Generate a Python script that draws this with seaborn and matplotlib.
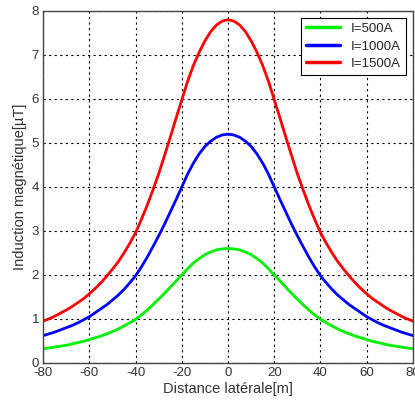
import numpy as np
import pandas as pd
import matplotlib
matplotlib.use("Agg")
import matplotlib.pyplot as plt
import seaborn as sns

# lateral distance [m], 2.5 m steps
distance = list(np.arange(-80, 80.1, 2.5))

# values [uT]
b_500 = [0.32, 0.34, 0.36, 0.38, 0.40, 0.43, 0.46, 0.49, 0.53, 0.57, 0.61, 0.66, 0.71,
         0.77, 0.84, 0.91, 0.99, 1.09, 1.20, 1.32, 1.45, 1.58, 1.72, 1.86, 2.00,
         2.14, 2.27, 2.37, 2.46, 2.52, 2.57, 2.59, 2.60,
         2.59, 2.57, 2.52, 2.46, 2.37, 2.27, 2.14, 2.00, 1.86, 1.72, 1.58, 1.45,
         1.32, 1.20, 1.09, 0.99, 0.91, 0.84, 0.77, 0.71, 0.66, 0.61, 0.57, 0.53,
         0.49, 0.46, 0.43, 0.40, 0.38, 0.36, 0.34, 0.32]
b_1000 = [0.62, 0.66, 0.70, 0.75, 0.80, 0.85, 0.91, 0.98, 1.05, 1.14, 1.23, 1.32, 1.43,
          1.54, 1.67, 1.82, 1.98, 2.18, 2.40, 2.64, 2.89, 3.15, 3.43, 3.71, 4.00,
          4.29, 4.54, 4.75, 4.92, 5.04, 5.13, 5.18, 5.20,
          5.18, 5.13, 5.04, 4.92, 4.75, 4.54, 4.29, 4.00, 3.71, 3.43, 3.15, 2.89,
          2.64, 2.40, 2.18, 1.98, 1.82, 1.67, 1.54, 1.43, 1.32, 1.23, 1.14, 1.05,
          0.98, 0.91, 0.85, 0.80, 0.75, 0.70, 0.66, 0.62]
b_1500 = [0.95, 1.00, 1.06, 1.13, 1.20, 1.28, 1.37, 1.46, 1.57, 1.69, 1.82, 1.97, 2.13,
          2.30, 2.50, 2.72, 2.96, 3.26, 3.58, 3.93, 4.30, 4.71, 5.13, 5.56, 5.98,
          6.40, 6.76, 7.06, 7.32, 7.53, 7.68, 7.77, 7.80,
          7.77, 7.68, 7.53, 7.32, 7.06, 6.76, 6.40, 5.98, 5.56, 5.13, 4.71, 4.30,
          3.93, 3.58, 3.26, 2.96, 2.72, 2.50, 2.30, 2.13, 1.97, 1.82, 1.69, 1.57,
          1.46, 1.37, 1.28, 1.20, 1.13, 1.06, 1.00, 0.95]

labels = ["I=500A", "I=1000A", "I=1500A"]
colors = ["#00ee00", "#0000ff", "#ff0000"]

n = len(distance)
df = pd.DataFrame({
    "x": distance * 3,
    "B": b_500 + b_1000 + b_1500,
    "serie": [labels[0]] * n + [labels[1]] * n + [labels[2]] * n,
})

sns.set_style("white")
plt.rcParams["font.family"] = ["Liberation Sans", "DejaVu Sans"]
plt.rcParams["axes.unicode_minus"] = False

fig = plt.figure(figsize=(4.15, 4.05), dpi=100)
ax = fig.add_axes([0.104, 0.104, 0.891, 0.869])

sns.lineplot(data=df, x="x", y="B", hue="serie", palette=colors,
             linewidth=2, ax=ax)

ax.set_xlim(-80, 80)
ax.set_ylim(0, 8)
ax.set_xticks(range(-80, 81, 20))
ax.set_yticks(range(0, 9))
ax.grid(True, color="black", linestyle=(0, (2, 3)), linewidth=0.8)
ax.tick_params(direction="in", labelsize=9.5, length=3, colors="#333333", pad=3)
for s in ax.spines.values():
    s.set_color("#444444")
    s.set_linewidth(1)

ax.set_xlabel("Distance latérale[m]", fontsize=10.5, color="#333333", labelpad=2)
ax.set_ylabel("Induction magnétique[µT]", fontsize=10.5, color="#333333", labelpad=3)

leg = ax.legend(loc="upper right", fontsize=9.5, frameon=True, fancybox=False,
                edgecolor="black", framealpha=1, handlelength=2.6,
                borderaxespad=0.5, labelspacing=0.4)
leg.get_frame().set_linewidth(0.8)
for line in leg.get_lines():
    line.set_linewidth(2.5)

fig.savefig("out.png", dpi=100)
